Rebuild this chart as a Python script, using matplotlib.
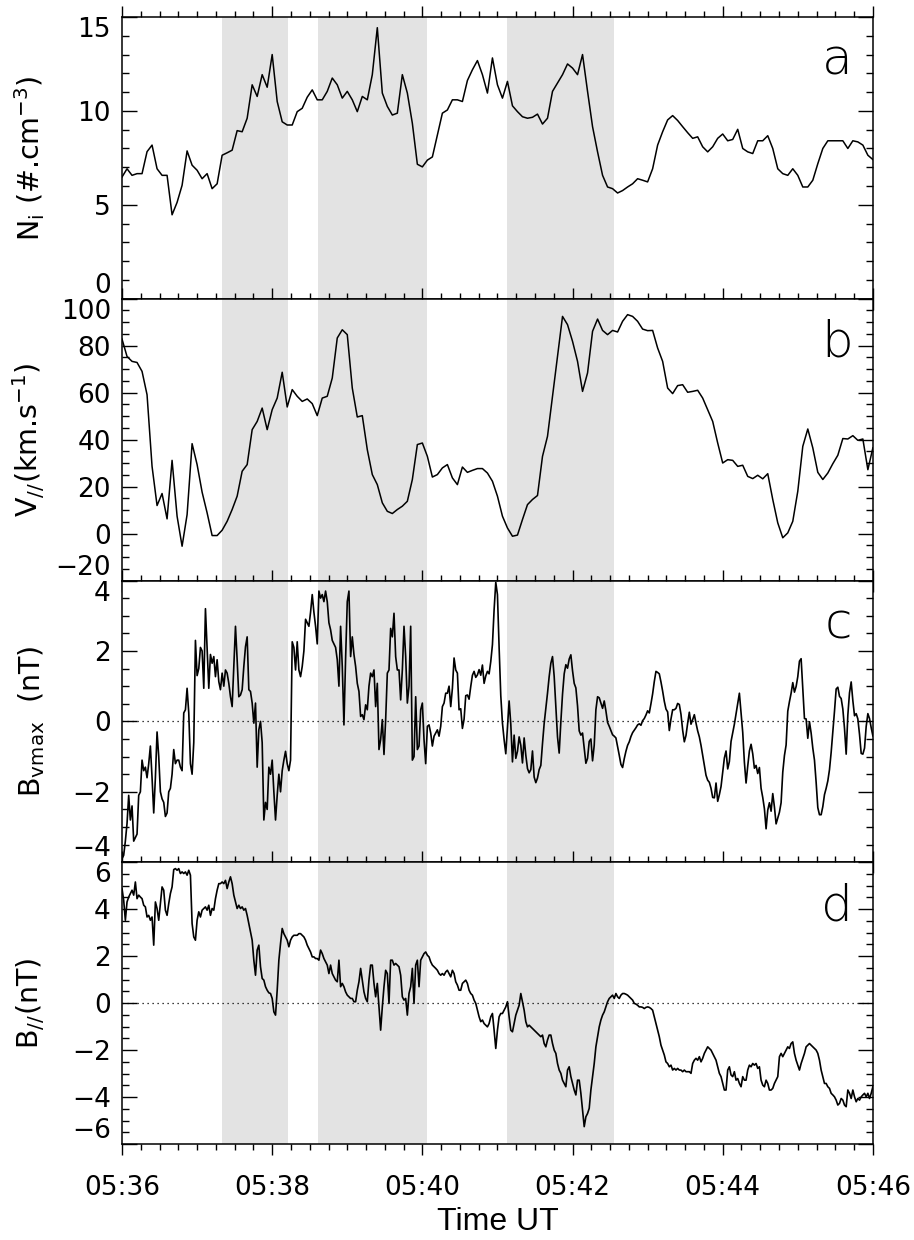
import numpy as np
import matplotlib
matplotlib.use('Agg')
import matplotlib.pyplot as plt
from matplotlib.ticker import MultipleLocator, FuncFormatter

plt.rcParams['font.family'] = ['DejaVu Sans']
plt.rcParams['mathtext.default'] = 'regular'

t_start = 5*3600 + 36*60   # 05:36:00, seconds of day
t_end = 5*3600 + 46*60     # 05:46:00

# shaded intervals, seconds after 05:36
shade_start = [80.0, 157.0, 307.5]
shade_end = [133.0, 243.5, 393.5]

# ion density (#/cm3), 4 s cadence
ni = [6.48, 6.92, 6.57, 6.66, 6.66, 7.83, 8.18, 6.92, 6.57, 6.57,
      4.47, 5.13, 6.04, 7.87, 7.11, 6.84, 6.39, 6.66, 5.86, 6.12,
      7.64, 7.77, 7.91, 8.95, 8.89, 9.61, 11.39, 10.77, 11.93, 11.26,
      13.0, 10.5, 9.42, 9.25, 9.25, 9.96, 10.14, 10.73, 11.12, 10.59,
      10.59, 11.04, 11.75, 11.39, 10.68, 11.04, 10.59, 9.96, 10.77, 10.59,
      11.93, 14.43, 10.95, 10.24, 9.78, 9.88, 11.93, 10.95, 9.34, 7.16,
      7.02, 7.38, 7.55, 8.71, 9.88, 10.05, 10.59, 10.59,
      10.5, 11.62, 12.19, 12.68, 11.93, 10.95, 12.82, 11.39, 10.68, 11.57,
      10.27, 9.96, 9.69, 9.61, 9.66, 9.83, 9.3, 9.61, 11.04, 11.48,
      11.93, 12.5, 12.28, 11.93, 13.0, 11.04, 9.16, 7.82, 6.57, 5.95,
      5.86, 5.63, 5.76, 5.95, 6.12, 6.39, 6.31, 6.22, 6.92, 8.18,
      8.89, 9.52, 9.75, 9.49, 9.16, 8.84, 8.54, 8.62, 8.09, 7.82,
      8.09, 8.54, 8.77, 8.41, 8.48, 9.02, 8.0, 7.82, 7.73, 8.41,
      8.41, 8.68, 8.0, 6.92, 6.66, 6.57, 6.92, 6.57, 5.95, 5.95,
      6.31, 7.19, 8.0, 8.41, 8.41, 8.41, 8.41, 8.0, 8.41, 8.35,
      8.18, 7.64, 7.41]

# parallel ion velocity (km/s), 4 s cadence
vpar = [82.81, 75.42, 73.33, 72.86, 69.07, 59.12, 28.61, 11.94, 17.05, 6.25,
        31.17, 7.39, -5.4, 8.05, 38.28, 29.37, 17.62, 8.81, -0.85, -0.85,
        1.42, 5.21, 10.23, 15.92, 26.53, 29.37, 44.25, 47.75, 53.44, 44.25,
        52.77, 57.7, 68.69, 53.91, 61.3, 58.46, 56.28, 57.32, 55.33, 50.22,
        57.7, 58.46, 66.23, 83.29, 86.79, 84.71, 61.97, 49.65, 50.22, 35.72,
        25.11, 20.84, 13.08, 9.47, 8.53, 10.23, 11.65, 13.74, 23.02, 37.9,
        38.56, 32.88, 24.07, 25.11, 27.95, 29.37, 23.69, 20.84,
        28.33, 26.06, 26.91, 27.67, 27.67, 25.77, 22.27, 15.92, 7.39, 2.37,
        -1.14, -0.66, 5.97, 12.32, 14.5, 16.2, 32.88, 41.41, 58.46, 75.42,
        92.48, 88.97, 81.86, 73.33, 60.54, 68.41, 86.13, 91.34, 86.51, 84.71,
        86.51, 85.84, 90.39, 93.23, 92.48, 90.39, 87.08, 86.41, 86.51, 79.02,
        73.33, 61.97, 59.6, 63.01, 63.39, 60.17, 60.54, 61.02, 57.7, 52.77,
        47.75, 38.56, 30.04, 31.46, 31.17, 28.61, 29.09, 24.35, 23.4, 24.82,
        23.31, 25.49, 14.5, 4.55, -1.8, 0.28, 5.21, 18.0, 37.14, 44.53,
        36.48, 26.06, 23.02, 25.77, 29.75, 33.35, 40.46, 40.27, 41.69, 39.7,
        40.27, 27.19, 36.48]

# B along the max variance direction (nT)
bvmax = [-3.9, -3.8, -3.4, -2.9, -2.1, -2.8, -2.4, -3.4, -3.3, -3.2,
         -2.1, -2.0, -1.1, -1.4, -1.3, -1.6, -1.2, -0.7, -1.6, -2.6,
         -1.6, -0.3, -1.0, -2.0, -2.2, -2.3, -2.7, -2.6, -2.0, -1.9,
         -1.5, -0.8, -1.2, -1.1, -1.1, -1.3, -1.4, 0.24, 0.33, 0.94,
         0.24, -1.2, -1.5, -0.6, 2.3, 1.3, 1.5, 2.1, 2.0, 0.94,
         3.2, 2.1, 0.94, 1.9, 1.65, 1.84, 1.27, 1.75, 1.13, 0.9,
         1.37, 1.0, 1.46, 1.37, 1.08, 0.7, 0.42, 1.56, 2.7, 1.75,
         0.7, 0.75, 0.9, 1.56, 2.12, 2.4, 0.9, 0.85, 0.52, -0.05,
         0.52, -1.3, -0.24, 0.0, -0.6, -2.8, -2.3, -2.5, -1.3, -1.5,
         -1.1, -2.0, -2.8, -2.1, -1.5, -2.0, -1.4, -1.1, -0.85, -1.2,
         -1.4, -1.1, 2.26, 2.1, 1.46, 2.26, 1.46, 1.27, 1.56, 2.0,
         2.9, 2.8, 2.7, 3.1, 3.6, 3.1, 2.7, 2.2, 3.7, 3.5,
         3.6, 3.4, 3.7, 3.4, 2.8, 2.6, 2.3, 2.2, 2.1, 1.75,
         1.0, 2.7, 1.56, -0.1, 1.8, 3.4, 3.7, 1.84, 2.4, 1.9,
         1.56, 1.08, 0.85, 0.14, 0.19, 0.05, 0.47, 0.33, 1.0, 1.37,
         1.27, 1.46, 0.42, 1.08, -0.8, -0.52, 0.05, -0.94, 0.05, 1.37,
         1.46, 2.64, 2.4, 3.07, 1.84, 1.46, 1.46, 0.61, 1.46, 2.7,
         1.84, 0.52, 1.0, 2.7, -1.1, -1.0, 0.7, -0.8, -0.7, 0.33,
         0.52, -0.52, -1.2, -0.14, -0.1, -0.33, -0.7, -0.42, -0.33, -0.24,
         -0.42, -0.14, 0.42, 0.52, 0.8, 0.8, 1.0, 0.42, 0.94, 1.8,
         1.46, 1.37, 0.33,
         0.36, -0.2, 0.06, 0.73, 0.75, 0.63, 0.99, 1.31, 1.42, 1.25,
         1.32, 1.47, 1.31, 1.6, 1.08, 1.29, 1.42, 1.35, 1.7, 2.18,
         3.17, 3.95, 3.6, 2.1, 0.73, -0.05, -0.52, -0.92, -0.16, 0.58,
         -0.08, -1.15, -0.39, -1.05, -0.85, -0.44, -0.68, -1.18, -0.47, -0.96,
         -1.34, -1.46, -1.37, -0.84, -1.58, -1.74, -1.61, -1.37, -1.25, -0.63,
         -0.06, 0.37, 0.8, 1.27, 1.65, 1.84, 1.28, 0.41, -0.44, -0.9,
         -0.01, 0.77, 1.35, 1.61, 1.51, 1.77, 1.89, 1.44, 1.08, 0.95,
         0.44, -0.27, -0.39, -0.33, -0.75, -1.19, -1.05, -0.57, -0.5, -1.12,
         -0.68, 0.33, 0.7, 0.67, 0.52, 0.37, 0.58, 0.3, -0.03, -0.14,
         -0.26, -0.38, -0.42, -0.47, -0.71, -0.96, -1.22, -1.31, -1.06, -0.85,
         -0.68, -0.58, -0.43, -0.32, -0.25, -0.18, -0.1, -0.07, -0.11, 0.02,
         0.08, 0.18, 0.3, 0.24, 0.5, 0.78, 1.13, 1.42, 1.39, 1.35,
         1.12, 0.86, 0.57, 0.35, 0.27, -0.26, 0.07, 0.33, 0.33, 0.37,
         0.51, 0.48, 0.2, -0.25, -0.58, -0.4, -0.05, 0.26, -0.08, 0.05,
         0.19, -0.05, -0.27, -0.44, -0.68, -0.96, -1.24, -1.53, -1.67, -1.73,
         -1.9, -2.16, -2.17, -1.75, -2.27, -2.08, -1.85, -1.44, -1.04, -0.84,
         -1.35, -1.14, -0.57, -0.33, -0.08, 0.22, 0.51, 0.8, 0.25, -0.31,
         -1.16, -1.75, -1.27, -0.84, -0.65, -0.92, -1.33, -1.25, -1.48, -1.31,
         -1.9, -2.16, -2.48, -3.05, -2.52, -2.31, -2.55, -2.05, -2.43, -2.91,
         -2.75, -2.58, -2.31, -1.44, -0.97, -0.67, 0.29, 0.56, 0.8, 1.1,
         0.83, 0.99, 1.27, 1.71, 1.78, 0.95, 0.08, 0.07, -0.48, -0.01,
         -0.33, -0.76, -1.1, -1.73, -2.45, -2.65, -2.65, -2.42, -2.08, -1.9,
         -1.69, -1.37, -0.88, -0.31, 0.29, 0.92, 0.97, 0.71, 0.65, 0.35,
         -0.2, -0.93, 0.18, 0.81, 1.12, 0.59, 0.16, 0.22, 0.07, -0.37,
         -0.91, -0.93, -0.76, -0.14, 0.22, 0.08, -0.18, -0.41]

# parallel magnetic field (nT)
bpar = [4.88, 4.38, 3.53, 4.31, 4.52, 4.67, 4.81, 4.6, 5.16, 4.45,
        4.6, 4.52, 4.45, 4.17, 4.1, 3.67, 3.74, 3.53, 3.67, 2.47,
        4.31, 4.03, 3.53, 4.24, 4.95, 4.81, 3.96, 3.74, 4.24, 4.67,
        4.95, 5.69, 5.73, 5.66, 5.73, 5.52, 5.59, 5.52, 5.59, 5.45,
        5.66, 5.45, 3.39, 2.82, 2.68, 3.53, 3.89, 3.67, 3.96, 4.03,
        4.1, 3.96, 4.17, 3.74, 4.03, 3.96, 4.45, 4.81, 5.09, 5.09,
        5.16, 5.09, 5.23, 4.88, 5.16, 5.38, 5.09, 4.6, 4.31, 4.03,
        4.17, 4.03, 4.1, 3.96, 4.03, 3.74, 3.39, 3.04, 2.68, 1.83,
        1.19, 2.26, 2.47, 1.55, 1.05, 0.98, 0.7, 0.55, 0.44, 0.41,
        0.2, -0.37, -0.51, 0.55, 1.83, 2.54, 3.18, 2.96, 2.82, 2.68,
        2.4, 2.68, 2.82, 2.89, 2.89, 2.89, 2.96, 2.96, 2.89, 2.82,
        2.68, 2.47, 2.33, 2.18, 1.97, 1.97, 1.9, 1.9, 1.83, 2.26,
        2.11, 1.9, 1.76, 1.62, 1.26, 1.62, 1.26, 1.12, 0.98, 0.91,
        1.83, 0.7, 0.84, 0.7, 0.48, 0.34, 0.27, 0.2, 0.2, 0.06,
        0.06, 0.55, 0.91, 1.48, 0.98, 0.48, 0.2, 0.06, 0.98, 1.62,
        1.62, 0.84, 0.27, 0.84, -0.16, -1.15, -0.16, 0.7, 1.4, 1.26,
        -0.01, 1.83, 1.83, 1.62, 1.69, 1.62, 1.55, 1.19, 0.27, 0.13,
        0.2, -0.51, 0.41, 0.7, 1.48, -0.01, 1.62, 1.83, 0.7, 1.83,
        1.97, 2.11, 2.18, 2.04, 1.97, 1.76, 1.62, 1.55, 1.48, 1.4,
        1.26, 1.19, 1.26, 1.19, 1.33, 1.4, 1.26, 1.12, 1.4, 1.26,
        0.91, 0.77, 0.55,
        0.55, 0.84, 0.91, 0.98, 0.84, 0.55, 0.41, 0.34, 0.13, -0.01,
        -0.3, -0.58, -0.79, -0.72, -0.87, -0.94, -1.01, -0.87, -0.58, -0.44,
        -1.15, -1.93, -1.15, -0.58, -0.44, -0.44, -0.3, -0.16, 0.06, -0.58,
        -1.15, -1.22, -0.87, -0.51, -0.3, -0.09, 0.41, 0.06, -0.3, -0.79,
        -1.01, -0.94, -1.01, -1.08, -1.15, -1.22, -1.29, -1.36, -1.43, -1.36,
        -1.72, -1.86, -1.57, -1.36, -1.36, -1.72, -2.0, -2.14, -2.57, -2.85,
        -2.99, -3.28, -3.42, -3.56, -2.85, -2.71, -3.13, -3.42, -3.7, -3.91,
        -3.28, -3.28, -3.84, -4.55, -5.26, -4.84, -4.7, -4.48, -3.7, -3.13,
        -2.57, -1.86, -1.43, -1.01, -0.72, -0.51, -0.37, -0.16, 0.06, 0.2,
        0.27, 0.34, 0.2, 0.41, 0.27, 0.2, 0.34, 0.41, 0.41, 0.38,
        0.34, 0.27, 0.2, 0.13, -0.01, -0.04, -0.09, -0.16, -0.16, -0.18,
        -0.23, -0.18, -0.16, -0.18, -0.23, -0.3, -0.58, -0.87, -1.15, -1.43,
        -1.79, -2.0, -2.21, -2.5, -2.57, -2.71, -2.64, -2.85, -2.78, -2.85,
        -2.78, -2.85, -2.85, -2.92, -2.85, -2.92, -2.92, -2.92, -2.99, -2.57,
        -2.43, -2.35, -2.43, -2.28, -2.5, -2.35, -2.14, -2.0, -1.86, -1.93,
        -2.0, -2.14, -2.28, -2.43, -2.71, -2.99, -3.13, -3.42, -3.7, -3.7,
        -2.85, -2.71, -3.06, -3.13, -2.92, -3.28, -3.21, -3.42, -3.56, -3.13,
        -3.28, -3.28, -2.85, -2.64, -2.71, -2.57, -2.64, -2.57, -2.78, -2.71,
        -3.28, -3.49, -3.56, -3.28, -3.42, -3.7, -3.7, -3.63, -3.42, -3.28,
        -3.13, -2.28, -2.14, -2.28, -2.14, -2.0, -1.86, -1.93, -1.72, -1.65,
        -2.14, -2.43, -2.64, -2.85, -2.57, -2.35, -2.14, -1.86, -1.79, -1.72,
        -1.79, -1.86, -1.93, -2.0, -2.14, -2.43, -2.85, -3.13, -3.42, -3.42,
        -3.56, -3.63, -3.84, -3.91, -3.99, -4.13, -4.34, -4.27, -4.06, -4.13,
        -4.34, -4.41, -3.7, -3.84, -4.06, -3.7, -3.99, -4.2, -4.06, -4.13,
        -3.99, -3.91, -3.84, -3.99, -3.84, -4.06, -3.84, -3.56]

ylabels = [r'N$_{i}$ (#.cm$^{-3}$)', r'V$_{//}$(km.s$^{-1}$)',
           r'B$_{vmax}$  (nT)', r'B$_{//}$(nT)']
letters = ['a', 'b', 'c', 'd']
ylims = [(0, 15), (-20, 100), (-4, 4), (-6, 6)]
yticks = [[0, 5, 10, 15], [-20, 0, 20, 40, 60, 80, 100],
          [-4, -2, 0, 2, 4], [-6, -4, -2, 0, 2, 4, 6]]
yminor = [1, 5, 0.5, 0.5]

# time grids: ion moments at 4 s, field data uniformly over the 10 min
t_ion = t_start + 4.0*np.arange(len(ni))
t_mag = np.linspace(t_start, t_end, len(bvmax))
series = [(t_ion, ni), (t_ion, vpar), (t_mag, bvmax), (t_mag, bpar)]
lws = [1.1, 1.1, 1.2, 1.2]

fig, axes = plt.subplots(4, 1, figsize=(9.14, 12.40), dpi=100, sharex=True)
fig.subplots_adjust(left=0.1335, right=0.955, bottom=0.0774, top=0.9863, hspace=0)

def hhmm(x, pos):
    return '%02d:%02d' % (x // 3600, (x % 3600) // 60)

for i, ax in enumerate(axes):
    for s0, s1 in zip(shade_start, shade_end):
        ax.axvspan(t_start + s0, t_start + s1, color='#e3e3e3', lw=0, zorder=0)
    if i >= 2:
        ax.axhline(0, color='black', lw=0.9, ls=(0, (1, 3)), zorder=1)
    tt, yy = series[i]
    ax.plot(tt, yy, color='black', lw=lws[i], zorder=2)
    ax.set_xlim(t_start, t_end)
    ax.set_ylim(*ylims[i])
    ax.set_yticks(yticks[i])
    ax.yaxis.set_minor_locator(MultipleLocator(yminor[i]))
    ax.xaxis.set_major_locator(MultipleLocator(120))
    ax.xaxis.set_minor_locator(MultipleLocator(15))
    ax.xaxis.set_major_formatter(FuncFormatter(hhmm))
    ax.tick_params(axis='y', which='both', direction='in', left=True, right=True,
                   labelsize=19, pad=8)
    ax.tick_params(axis='y', which='major', length=10.5, width=1)
    ax.tick_params(axis='y', which='minor', length=5.3, width=1)
    ax.tick_params(axis='x', which='both', direction='out', top=True, bottom=True,
                   labelsize=19, pad=14)
    ax.tick_params(axis='x', which='major', length=8, width=1)
    ax.tick_params(axis='x', which='minor', length=4.5, width=1)
    for sp in ax.spines.values():
        sp.set_linewidth(1.1)
    ax.set_ylabel(ylabels[i], fontsize=20.5)
    ax.yaxis.set_label_coords(-0.10, 0.5)
    ax.text(0.973, 0.795, letters[i], transform=ax.transAxes, ha='right',
            va='baseline', fontsize=36, fontweight='light')
    if i < 3:
        ax.tick_params(axis='x', labelbottom=False)
    # end labels sit inside the frame
    labs = ax.get_yticklabels()
    labs[0].set_verticalalignment('bottom')
    labs[-1].set_verticalalignment('top')

axes[3].set_xlabel('Time UT', fontsize=23, family=['Liberation Sans', 'DejaVu Sans'])
axes[3].xaxis.set_label_coords(0.5, -0.225)

fig.savefig('out.png', dpi=100)
